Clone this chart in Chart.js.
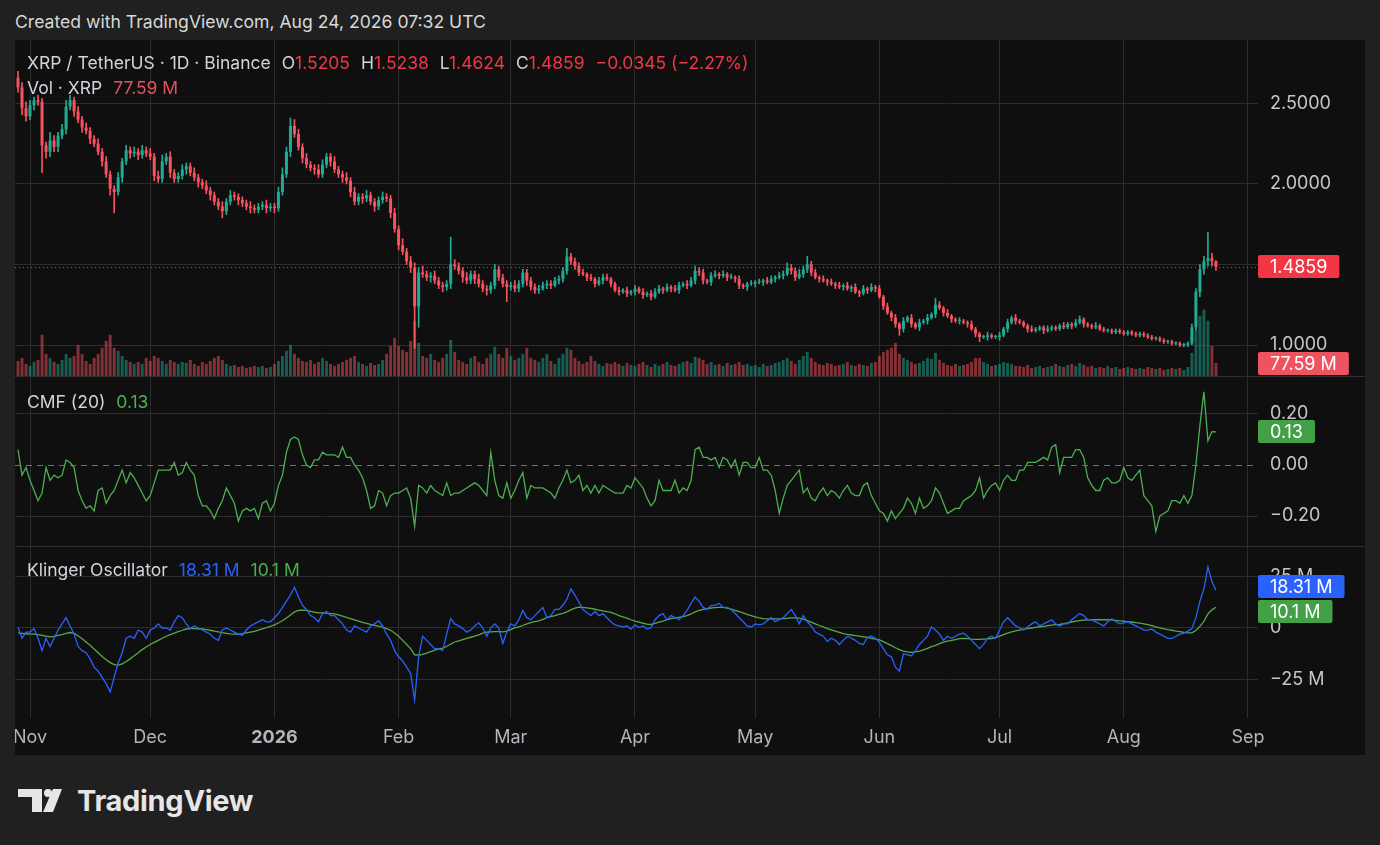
<!DOCTYPE html>
<html><head><meta charset="utf-8">
<script src="https://cdn.jsdelivr.net/npm/chart.js@4.4.1/dist/chart.umd.min.js"></script>
<style>
html,body{margin:0;padding:0;background:#202020;width:1380px;height:845px;overflow:hidden;font-family:Inter,"Noto Sans",sans-serif;}
#hdr{position:absolute;left:15px;top:11px;font-size:17.6px;line-height:22px;color:#d8d8d8;white-space:nowrap;}
#panel{position:absolute;left:15px;top:40px;width:1350px;height:715px;background:#0f0f0f;overflow:hidden;}
#panel canvas{position:absolute;left:0;}
.sep{position:absolute;left:0;width:1350px;height:1px;background:#2e2e2e;}
.lg{position:absolute;left:12px;font-size:17.5px;line-height:22px;color:#d1d4dc;white-space:nowrap;}
.lg .g{margin-left:11px;}
.red{color:#f23645;} .grn{color:#4caf50;} .blu{color:#2962ff;}
#logo{position:absolute;left:18px;top:784px;height:32px;display:flex;align-items:center;}
#logo span{font-size:29px;font-weight:700;color:#e6e6e6;letter-spacing:-0.3px;margin-left:15px;}
</style></head>
<body>
<div id="hdr">Created with TradingView.com, Aug 24, 2026 07:32 UTC</div>
<div id="panel">
  <canvas id="cMain" width="1350" height="336" style="top:0;width:1350px;height:336px"></canvas>
  <canvas id="cCmf" width="1350" height="170" style="top:336px;width:1350px;height:170px"></canvas>
  <canvas id="cKvo" width="1350" height="209" style="top:506px;width:1350px;height:209px"></canvas>
  <div class="sep" style="top:336px"></div>
  <div class="sep" style="top:506px"></div>
  <div class="lg" style="top:12px">XRP / TetherUS · 1D · Binance<span class="g">O<span class="red">1.5205</span></span><span class="g">H<span class="red">1.5238</span></span><span class="g">L<span class="red">1.4624</span></span><span class="g">C<span class="red">1.4859</span></span><span class="g red">−0.0345 (−2.27%)</span></div>
  <div class="lg" style="top:37px">Vol · XRP<span class="g" style="color:#e0525c">77.59 M</span></div>
  <div class="lg" style="top:351px">CMF (20)<span class="g grn">0.13</span></div>
  <div class="lg" style="top:519px">Klinger Oscillator<span class="g blu">18.31 M</span><span class="g grn">10.1 M</span></div>
</div>
<div id="logo"><svg width="44" height="23" viewBox="0 0 44 23"><path d="M0 0h24v23h-10v-15h-14z" fill="#e6e6e6"/><circle cx="30" cy="4" r="4" fill="#e6e6e6"/><path d="M35 0h9l-9 23h-10z" fill="#e6e6e6"/></svg><span>TradingView</span></div>
<script>
// ---------- data (day index 0 = Nov 1, 2025) ----------
const firstDay = -3; // Oct 29, 2025
const monthLabels = ['Nov','Dec','2026','Feb','Mar','Apr','May','Jun','Jul','Aug','Sep'];
const monthDays   = [0,30,61,92,120,151,181,212,242,273,304];
const priceTicks = [1.0,1.5,2.0,2.5];
const cmfTicks = [-0.2,0,0.2];
const kvoTicks = [-25,0,25];
const firstOpen = 2.66;
const closes = [
2.60,2.47,2.42,2.49,2.52,2.51,2.24,2.20,2.27,2.23,
2.30,2.34,2.48,2.52,2.45,2.40,2.35,2.33,2.28,2.25,
2.20,2.14,2.06,1.97,1.95,2.04,2.14,2.21,2.19,2.20,
2.18,2.21,2.19,2.17,2.05,2.03,2.14,2.17,2.07,2.03,
2.05,2.09,2.11,2.07,2.04,2.01,1.99,1.96,1.93,1.89,
1.86,1.83,1.89,1.93,1.92,1.90,1.88,1.86,1.85,1.84,
1.86,1.87,1.85,1.86,1.85,1.95,2.06,2.20,2.36,2.31,
2.23,2.16,2.12,2.10,2.09,2.06,2.12,2.17,2.14,2.09,
2.06,2.04,2.02,1.95,1.89,1.92,1.91,1.93,1.89,1.86,
1.90,1.92,1.91,1.82,1.72,1.62,1.58,1.52,1.48,1.24,
1.45,1.44,1.42,1.43,1.40,1.37,1.36,1.38,1.50,1.49,
1.46,1.42,1.40,1.44,1.41,1.38,1.35,1.34,1.37,1.47,
1.42,1.38,1.36,1.37,1.35,1.38,1.45,1.40,1.36,1.34,
1.35,1.37,1.38,1.37,1.40,1.41,1.46,1.55,1.52,1.49,
1.45,1.44,1.42,1.41,1.38,1.40,1.42,1.41,1.38,1.34,
1.33,1.34,1.32,1.33,1.35,1.33,1.31,1.32,1.30,1.33,
1.35,1.34,1.36,1.35,1.34,1.37,1.38,1.37,1.40,1.46,
1.45,1.40,1.39,1.43,1.44,1.43,1.44,1.42,1.42,1.41,
1.37,1.36,1.38,1.38,1.39,1.39,1.40,1.39,1.41,1.42,
1.43,1.44,1.48,1.46,1.42,1.44,1.47,1.50,1.45,1.42,
1.41,1.40,1.39,1.38,1.37,1.36,1.37,1.35,1.36,1.33,
1.32,1.35,1.34,1.36,1.35,1.30,1.24,1.20,1.17,1.13,
1.10,1.15,1.17,1.13,1.11,1.14,1.15,1.17,1.19,1.25,
1.23,1.20,1.18,1.16,1.15,1.15,1.14,1.13,1.10,1.07,
1.05,1.05,1.06,1.05,1.05,1.06,1.10,1.14,1.17,1.15,
1.14,1.12,1.10,1.09,1.10,1.11,1.09,1.10,1.11,1.10,
1.12,1.11,1.13,1.12,1.14,1.16,1.13,1.12,1.11,1.12,
1.10,1.09,1.09,1.08,1.09,1.08,1.07,1.08,1.07,1.06,
1.07,1.06,1.05,1.04,1.04,1.03,1.02,1.02,1.01,1.01,
1.00,1.00,1.01,1.11,1.33,1.47,1.52,1.54,1.5205,1.4859];
const upperWick = [
.04,.03,.04,.03,.02,.03,.02,.02,.05,.03,
.02,.03,.04,.03,.02,.03,.02,.03,.02,.02,
.03,.02,.03,.02,.02,.03,.02,.03,.02,.03,
.02,.03,.02,.03,.02,.03,.04,.02,.03,.02,
.02,.03,.02,.02,.03,.02,.02,.03,.02,.02,
.02,.03,.02,.03,.02,.02,.02,.02,.03,.02,
.02,.02,.03,.02,.02,.03,.04,.03,.05,.04,
.03,.02,.03,.02,.02,.03,.03,.02,.02,.03,
.02,.02,.03,.02,.03,.02,.02,.03,.02,.02,
.02,.03,.02,.02,.03,.02,.04,.02,.03,.03,
.03,.04,.02,.02,.03,.02,.02,.02,.17,.03,
.02,.02,.03,.02,.02,.03,.02,.02,.02,.03,
.02,.02,.02,.02,.03,.02,.02,.02,.02,.02,
.02,.02,.02,.02,.02,.02,.02,.05,.02,.02,
.02,.02,.01,.02,.01,.02,.02,.02,.01,.01,
.02,.01,.02,.01,.02,.01,.02,.01,.02,.02,
.02,.01,.02,.01,.02,.02,.01,.02,.02,.03,
.02,.02,.01,.02,.02,.01,.02,.01,.02,.01,
.02,.01,.01,.02,.01,.02,.01,.02,.02,.01,
.02,.02,.03,.02,.02,.03,.02,.05,.02,.02,
.01,.02,.01,.02,.01,.02,.01,.02,.01,.02,
.01,.02,.01,.02,.01,.02,.01,.02,.01,.02,
.01,.02,.01,.02,.01,.02,.01,.02,.01,.04,
.02,.01,.02,.01,.01,.02,.01,.01,.02,.01,
.01,.01,.02,.01,.01,.02,.01,.02,.01,.02,
.01,.01,.01,.02,.01,.01,.01,.02,.01,.01,
.01,.02,.01,.01,.02,.02,.01,.01,.01,.02,
.01,.01,.01,.01,.01,.01,.01,.01,.01,.01,
.01,.01,.01,.01,.01,.01,.01,.01,.01,.01,
.01,.01,.01,.02,.02,.03,.03,.16,.03,.0033];
const lowerWick = [
.03,.04,.03,.02,.03,.02,.17,.04,.03,.03,
.03,.02,.03,.02,.03,.02,.03,.02,.03,.02,
.02,.03,.02,.04,.13,.02,.03,.02,.03,.02,
.03,.02,.02,.02,.03,.02,.02,.02,.03,.02,
.02,.02,.03,.02,.02,.03,.02,.02,.03,.02,
.02,.04,.02,.02,.02,.03,.02,.02,.03,.02,
.02,.02,.03,.02,.03,.02,.02,.02,.03,.02,
.02,.03,.02,.02,.03,.02,.02,.02,.03,.02,
.02,.03,.02,.03,.02,.02,.03,.02,.02,.03,
.02,.02,.02,.03,.02,.03,.02,.02,.03,.26,
.13,.02,.02,.03,.02,.02,.03,.02,.03,.02,
.02,.03,.02,.02,.03,.02,.02,.03,.02,.02,
.02,.02,.09,.02,.02,.02,.02,.03,.02,.02,
.02,.01,.02,.02,.01,.02,.02,.02,.02,.02,
.02,.01,.02,.01,.02,.01,.02,.01,.02,.01,
.02,.01,.02,.01,.02,.01,.02,.01,.02,.01,
.01,.02,.01,.02,.01,.02,.01,.02,.01,.02,
.02,.02,.01,.02,.01,.02,.01,.02,.01,.02,
.02,.01,.02,.01,.02,.01,.02,.01,.01,.02,
.01,.02,.01,.02,.02,.01,.02,.02,.02,.01,
.02,.01,.02,.01,.02,.01,.02,.01,.02,.01,
.02,.01,.02,.01,.02,.01,.02,.01,.02,.02,
.04,.02,.01,.02,.01,.02,.01,.02,.01,.02,
.01,.02,.01,.02,.01,.02,.01,.02,.01,.02,
.03,.01,.02,.01,.01,.02,.01,.02,.01,.02,
.01,.01,.02,.01,.01,.01,.02,.01,.01,.01,
.01,.01,.01,.02,.01,.01,.02,.01,.01,.01,
.01,.01,.01,.01,.01,.01,.01,.01,.01,.01,
.01,.01,.01,.01,.01,.01,.01,.01,.01,.01,
.01,.01,.01,.01,.02,.03,.03,.03,.03,.0235];
const volumes = [ // millions of XRP
90,108,72,60,84,96,246,132,108,84,
72,96,132,108,120,186,132,90,72,108,
132,168,210,246,168,150,120,96,84,72,
84,72,108,90,120,108,90,72,96,84,
72,84,78,96,72,60,84,72,90,108,
120,96,72,60,66,54,60,48,54,60,
54,60,48,54,72,90,120,150,186,132,
108,90,84,96,72,84,108,90,72,60,
72,84,96,108,120,84,72,60,78,66,
72,96,132,180,228,180,156,144,210,330,
198,120,108,132,96,84,108,132,216,144,
96,84,72,108,120,84,72,108,132,174,
132,108,168,120,96,108,132,168,108,96,
84,108,132,90,72,108,132,168,156,108,
90,72,84,120,90,72,60,78,72,84,
72,60,78,66,60,72,84,66,54,72,
60,72,84,66,60,72,84,90,78,114,
108,96,72,84,66,72,60,78,66,72,
84,66,72,60,66,54,72,60,66,78,
84,96,108,90,72,96,120,144,108,84,
72,66,78,72,60,66,72,84,66,60,
72,66,60,78,84,120,144,156,168,198,
132,108,96,84,72,78,90,108,102,138,
96,78,66,60,72,60,66,72,84,108,
108,84,72,60,66,72,84,78,72,60,
60,54,66,48,54,60,48,54,60,72,
60,54,66,72,60,78,66,54,60,48,
54,48,60,48,54,42,48,54,48,42,
48,42,54,48,42,48,36,42,48,42,
48,36,54,138,270,360,396,330,180,77.59];
const cmf = [
0.06,-0.04,-0.01,-0.06,-0.10,-0.14,-0.11,-0.01,-0.06,-0.04,
-0.05,-0.04,0.02,0.01,-0.01,-0.10,-0.14,-0.17,-0.16,-0.18,
-0.10,-0.09,-0.15,-0.12,-0.10,-0.06,-0.02,-0.07,-0.03,-0.05,
-0.08,-0.11,-0.14,-0.12,-0.07,-0.02,-0.02,-0.02,-0.02,0.01,
-0.04,-0.03,0.01,-0.02,-0.04,-0.12,-0.16,-0.16,-0.18,-0.21,
-0.17,-0.14,-0.09,-0.12,-0.15,-0.22,-0.18,-0.17,-0.18,-0.17,
-0.21,-0.15,-0.14,-0.18,-0.15,-0.08,-0.04,0.05,0.10,0.11,
0.10,0.04,0.00,-0.01,0.02,0.02,0.05,0.04,0.04,0.04,
0.03,0.07,0.03,0.03,0.00,-0.02,-0.05,-0.10,-0.17,-0.16,
-0.10,-0.11,-0.16,-0.12,-0.11,-0.11,-0.10,-0.09,-0.13,-0.24,
-0.08,-0.09,-0.11,-0.08,-0.10,-0.11,-0.12,-0.07,-0.12,-0.11,
-0.11,-0.10,-0.09,-0.08,-0.07,-0.08,-0.10,-0.12,0.05,-0.06,
-0.12,-0.13,-0.07,-0.13,-0.10,-0.06,-0.03,-0.13,-0.08,-0.09,
-0.09,-0.09,-0.10,-0.11,-0.13,-0.09,-0.06,-0.02,-0.07,-0.06,
-0.04,-0.10,-0.08,-0.11,-0.08,-0.11,-0.08,-0.09,-0.10,-0.11,
-0.11,-0.11,-0.08,-0.09,-0.05,-0.07,-0.09,-0.13,-0.16,-0.14,
-0.06,-0.10,-0.10,-0.10,-0.06,-0.11,-0.09,-0.10,-0.06,0.06,
0.07,0.03,0.03,0.02,0.03,-0.01,0.03,0.02,-0.01,0.02,
-0.04,0.01,0.01,-0.01,-0.01,0.03,-0.02,-0.02,-0.04,-0.10,
-0.19,-0.13,-0.08,-0.06,-0.04,-0.02,-0.11,-0.09,-0.13,-0.14,
-0.11,-0.09,-0.12,-0.10,-0.11,-0.13,-0.10,-0.08,-0.11,-0.12,
-0.12,-0.08,-0.07,-0.12,-0.15,-0.18,-0.19,-0.22,-0.18,-0.21,
-0.19,-0.17,-0.13,-0.15,-0.19,-0.13,-0.17,-0.16,-0.14,-0.09,
-0.11,-0.15,-0.19,-0.18,-0.17,-0.17,-0.14,-0.13,-0.12,-0.10,
-0.05,-0.13,-0.10,-0.08,-0.07,-0.10,-0.06,-0.04,-0.06,-0.06,
-0.02,-0.02,0.01,0.01,0.01,0.02,0.03,0.02,0.07,0.08,
-0.03,0.03,0.03,0.03,0.06,0.06,0.03,-0.05,-0.08,-0.10,
-0.10,-0.06,-0.05,-0.07,-0.07,-0.06,-0.01,-0.05,-0.06,-0.04,
-0.02,-0.12,-0.14,-0.16,-0.26,-0.20,-0.19,-0.18,-0.14,-0.14,
-0.15,-0.12,-0.15,-0.12,0.00,0.155,0.287,0.095,0.131,0.13];
const kvo = [ // millions
0.2,-5,-2,-2,-0.3,-5,-11,-5,-9,-5,
-1,2,5,1,-3,-9,-11,-12,-15,-19,
-21,-24,-27,-31,-24,-17,-12,-5,-4,-5,
-1,-2,-5,-1,0,2,0,0,-1,3,
6,5,2,-0.3,1,0,-1,-2,-3,-5,
-6,-1,0,-1,-2,-3,-3.5,-1,1,2,
3,4,3,3,5,7,10,13,16,19.8,
15,11,9,6,5,3,7,8,6,6,
4,2,-1,-2,1,0,-1,-2,1,2,
3.5,1,-3,-6,-11,-14,-16,-19,-22,-35,
-14,-4,-6,-8,-10,-10,-11,-3,4.5,2,
1,-0.3,-2,-1,1,2.5,0,-4,0,2,
0,-7.5,-2,2,1,4,8.5,5,4,6,
8,10,5,6,9,9,11,14,19,16,
12.5,9,7.5,6,8,6,7,5,3,1.5,
1,0.5,1,-0.5,1.5,0.2,1,-0.5,0,4,
6,7,4,6,5,4,6,8.5,12,15,
13,10,9,11,11,12,10,10,9,7,
5,3,1,0.5,2,1.5,2,3.5,5,3,
4,5,7,9,6,2,6,3,1,-2,
-3,-4,-6.5,-5,-6,-8,-6,-4,-5,-6,
-7.5,-8,-4.5,-4,-5,-7,-10,-13,-14,-19,
-21,-12.5,-13,-13.5,-11,-8,-6,-4,0.5,-1,
-3,-6,-4,-5,-4,-3,-2.5,-4,-6,-8,
-10,-8,-5,-4,-5,-1,3,5,3,1,
0,-1,0.5,2,3,1,2,3,4,2,
1,2,2,4,5.5,7,6,4,4,3,
2,1,3,4.5,3,2,2.5,3,2,1,
0,-1,-1,-0.5,-2,-3,-4,-5,-5,-4,
-3,-2.5,-1.5,-0.3,5,13,19,29.7,22.6,18.31];
const kvoSignal = [
-2.4,-2.6,-2.8,-3,-3,-3.2,-3.6,-4,-4.3,-4.1,
-3.6,-3.2,-2.6,-2.2,-2.6,-3.8,-5.2,-6.8,-8.4,-10.2,
-12,-13.8,-15.4,-16.8,-17.8,-18,-17.4,-16.3,-15,-13.5,
-12,-10.5,-9.2,-8,-7,-6,-5,-4,-3.2,-2.5,
-1.8,-1.1,-0.5,-0.3,-0.3,-0.4,-0.5,-0.8,-1.1,-1.5,
-1.9,-2.3,-2.6,-2.9,-3,-3,-2.8,-2.4,-2,-1.6,
-1,-0.4,0.2,0.8,1.5,2.4,3.5,4.8,6.3,7.8,
8.5,8.7,8.5,8.1,7.7,7.3,7.3,7.2,7,6.8,
6.4,5.8,5.1,4.5,3.9,3.3,2.7,2.2,1.7,1.3,
0.9,0.4,-0.3,-1.1,-2.4,-4,-6,-8,-10,-13,
-13.2,-12.8,-12.2,-11.5,-10.8,-10.2,-9.8,-9,-7.8,-6.8,
-6.2,-5.6,-5,-4.5,-4,-3.3,-2.5,-2,-1.9,-1.8,
-1.8,-1.9,-1.5,-0.8,0,0.5,1.2,2,2.6,3.1,
3.5,4.2,5,5.5,6,6.6,7.1,7.8,8.8,9.6,
10.1,10,9.8,9.5,9.1,8.7,8.3,7.9,7.6,6.9,
6,5.4,4.8,4,3.3,2.8,2.3,1.9,1.7,2.2,
2.8,3.3,4,4.5,4.9,5.2,5.5,6,6.8,7.8,
8.5,9,9.4,9.7,9.9,10,10,9.6,9.1,8.5,
8,7.3,6.6,6,5.4,4.9,4.5,4.4,4.4,4.4,
4.4,4.5,4.7,4.9,4.9,4.8,4.3,3.6,2.8,2.0,
1.2,0.5,-0.3,-0.9,-1.5,-2.1,-2.7,-3.1,-3.4,-3.7,
-4,-4.3,-4.6,-5,-5.4,-5.8,-6.6,-7.6,-8.6,-9.6,
-10.5,-11.2,-11.6,-11.8,-11.6,-11.2,-10.6,-9.9,-9.1,-8.4,
-7.6,-6.9,-6.4,-6,-5.6,-5.2,-5.1,-5.2,-5.4,-5.5,
-5.5,-5.4,-5.3,-5.1,-4.7,-4,-3.2,-2.5,-1.9,-1.4,
-1,-0.6,-0.3,0,0.3,0.6,0.8,1.1,1.4,1.6,
1.7,2.1,2.5,2.9,3.3,3.6,3.8,4,4,4,
4,4,4,3.9,3.7,3.5,3.3,3.1,2.9,2.6,
2.4,2,1.6,1.1,0.5,0,-0.4,-0.8,-1.1,-1.5,
-1.8,-2.1,-2.4,-2.4,-1.2,0.8,3.2,6.8,8.8,10.1];

// ---------- build ----------
const FONT = 'Inter, "Noto Sans", sans-serif';
const GRID = '#2c2c2c';
const UP = '#22ab94', DN = '#f7525f';
const XMIN = -3.75, XMAX = 306.5;
const N = closes.length;
const xs = closes.map((_, k) => firstDay + k);
const opens = closes.map((c, k) => k === 0 ? firstOpen : closes[k - 1]);
const highs = closes.map((c, k) => Math.max(opens[k], c) + upperWick[k]);
const lows = closes.map((c, k) => Math.min(opens[k], c) - lowerWick[k]);
const isUp = closes.map((c, k) => c >= opens[k]);
const candleCol = isUp.map(u => u ? UP : DN);
const volCol = isUp.map(u => u ? 'rgba(34,171,148,0.5)' : 'rgba(247,82,95,0.5)');
const last = N - 1;

Chart.defaults.font.family = FONT;
Chart.defaults.animation = false;

function xScale(showLabels) {
  return {
    type: 'linear', min: XMIN, max: XMAX, offset: false,
    afterBuildTicks: s => { s.ticks = monthDays.map(v => ({ value: v })); },
    grid: { color: GRID, drawTicks: false, offset: false },
    border: { display: false },
    ticks: {
      display: showLabels, autoSkip: false, maxRotation: 0, minRotation: 0, padding: 9, color: '#b2b5be',
      font: ctx => ({ family: FONT, size: 18, weight: (ctx.tick && ctx.tick.value === 61) ? 'bold' : 'normal' }),
      callback: v => { const k = monthDays.indexOf(v); return k >= 0 ? monthLabels[k] : ''; }
    },
    afterFit: s => { s.height = showLabels ? 37 : 0; s.paddingLeft = 0; s.paddingRight = 0; s.paddingTop = 0; s.paddingBottom = 0; }
  };
}
function yScale(min, max, ticks, fmt, gridColor) {
  return {
    position: 'right', min, max,
    afterBuildTicks: s => { s.ticks = ticks.map(v => ({ value: v })); },
    grid: { color: gridColor || GRID, drawTicks: false },
    border: { display: false },
    ticks: { color: '#c3c5cb', font: { family: FONT, size: 18 }, padding: 12, callback: fmt },
    afterFit: s => { s.width = 107; s.paddingTop = 0; s.paddingBottom = 0; s.paddingLeft = 0; s.paddingRight = 0; }
  };
}
function badges(list) {
  return {
    id: 'badges',
    afterDraw(chart) {
      const ctx = chart.ctx, a = chart.chartArea;
      ctx.save();
      ctx.font = '18px ' + FONT;
      ctx.textBaseline = 'middle';
      const items = list.map(b => Object.assign({}, b, { y: chart.scales[b.axis].getPixelForValue(b.value) }));
      items.sort((p, q) => p.y - q.y);
      for (let k = 1; k < items.length; k++) {
        const d = items[k].y - items[k - 1].y, need = 25;
        if (d < need) { const s = (need - d) / 2; items[k - 1].y -= s; items[k].y += s; }
      }
      items.forEach(b => {
        const w = ctx.measureText(b.text).width + 24, h = 23;
        const x = a.right, y = Math.round(b.y - h / 2);
        ctx.fillStyle = b.color;
        ctx.beginPath();
        ctx.roundRect ? ctx.roundRect(x, y, w, h, 2) : ctx.rect(x, y, w, h);
        ctx.fill();
        ctx.fillStyle = '#ffffff';
        ctx.fillText(b.text, x + 12, y + h / 2 + 1);
      });
      ctx.restore();
    }
  };
}
function hLine(axis, value, color, dash) {
  return {
    id: 'hline' + axis,
    afterDatasetsDraw(chart) {
      const ctx = chart.ctx, a = chart.chartArea;
      const y = Math.round(chart.scales[axis].getPixelForValue(value)) + 0.5;
      ctx.save();
      ctx.strokeStyle = color; ctx.lineWidth = 1; ctx.setLineDash(dash);
      ctx.beginPath(); ctx.moveTo(a.left, y); ctx.lineTo(a.right, y); ctx.stroke();
      ctx.restore();
    }
  };
}
const minus = s => s.replace('-', '−');

// ---------- main pane: candles + volume ----------
new Chart(document.getElementById('cMain'), {
  type: 'bar',
  data: {
    datasets: [
      { label: 'body', data: xs.map((x, k) => ({ x, y: [opens[k], closes[k]] })), backgroundColor: candleCol,
        barPercentage: 0.75, categoryPercentage: 1, grouped: false, minBarLength: 1, yAxisID: 'y', order: 1, borderWidth: 0 },
      { label: 'wick', data: xs.map((x, k) => ({ x, y: [lows[k], highs[k]] })), backgroundColor: candleCol,
        barThickness: 1, grouped: false, yAxisID: 'y', order: 2, borderWidth: 0 },
      { label: 'vol', data: xs.map((x, k) => ({ x, y: volumes[k] })), backgroundColor: volCol,
        barPercentage: 0.72, categoryPercentage: 1, grouped: false, yAxisID: 'yv', order: 3, borderWidth: 0 }
    ]
  },
  options: {
    responsive: false, maintainAspectRatio: false,
    layout: { padding: 0, autoPadding: false },
    plugins: { legend: { display: false }, tooltip: { enabled: false } },
    scales: {
      x: xScale(false),
      y: yScale(0.8075, 2.894, priceTicks, v => v.toFixed(4)),
      yv: { display: false, min: 0, max: 2006 }
    }
  },
  plugins: [hLine('y', closes[last], '#f23645', [1, 3]),
    badges([{ axis: 'y', value: closes[last], text: closes[last].toFixed(4), color: '#f23645' },
            { axis: 'yv', value: volumes[last], text: volumes[last].toFixed(2) + ' M', color: '#ef5360' }])]
});

// ---------- CMF pane ----------
new Chart(document.getElementById('cCmf'), {
  type: 'line',
  data: { datasets: [{ data: xs.map((x, k) => ({ x, y: cmf[k] })), borderColor: '#4caf50', borderWidth: 1.3,
    pointRadius: 0, tension: 0, fill: false }] },
  options: {
    responsive: false, maintainAspectRatio: false, layout: { padding: 0, autoPadding: false },
    plugins: { legend: { display: false }, tooltip: { enabled: false } },
    scales: {
      x: xScale(false),
      y: yScale(-0.3176, 0.349, cmfTicks, v => minus(v.toFixed(2)), ctx => (ctx.tick && ctx.tick.value === 0) ? 'rgba(0,0,0,0)' : GRID)
    }
  },
  plugins: [{
    id: 'zeroDash',
    beforeDatasetsDraw(chart) {
      const ctx = chart.ctx, a = chart.chartArea;
      const y = Math.round(chart.scales.y.getPixelForValue(0)) + 0.5;
      ctx.save(); ctx.strokeStyle = '#6e6e6e'; ctx.lineWidth = 1; ctx.setLineDash([6, 5]);
      ctx.beginPath(); ctx.moveTo(a.left, y); ctx.lineTo(a.right, y); ctx.stroke(); ctx.restore();
    }
  }, badges([{ axis: 'y', value: cmf[last], text: cmf[last].toFixed(2), color: '#43a047' }])]
});

// ---------- Klinger pane ----------
new Chart(document.getElementById('cKvo'), {
  type: 'line',
  data: { datasets: [
    { data: xs.map((x, k) => ({ x, y: kvo[k] })), borderColor: '#2962ff', borderWidth: 1.3, pointRadius: 0, tension: 0 },
    { data: xs.map((x, k) => ({ x, y: kvoSignal[k] })), borderColor: '#5aa846', borderWidth: 1.3, pointRadius: 0, tension: 0 }
  ] },
  options: {
    responsive: false, maintainAspectRatio: false, layout: { padding: 0, autoPadding: false },
    plugins: { legend: { display: false }, tooltip: { enabled: false } },
    scales: {
      x: xScale(true),
      y: yScale(-43.7, 39.8, kvoTicks, v => v === 0 ? '0' : (v < 0 ? '−' + Math.abs(v) + ' M' : v + ' M'))
    }
  },
  plugins: [badges([{ axis: 'y', value: kvo[last], text: kvo[last].toFixed(2) + ' M', color: '#2962ff' },
                    { axis: 'y', value: kvoSignal[last], text: kvoSignal[last].toFixed(1) + ' M', color: '#43a047' }])]
});
</script>
</body></html>
